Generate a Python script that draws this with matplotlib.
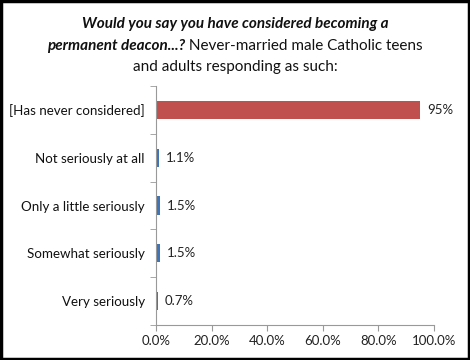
import matplotlib
matplotlib.use("Agg")
import matplotlib.pyplot as plt
from matplotlib.patches import Rectangle
import numpy as np

categories = ["[Has never considered]", "Not seriously at all", "Only a little seriously",
              "Somewhat seriously", "Very seriously"]
values = [95.0, 1.1, 1.5, 1.5, 0.7]
value_labels = ["95%", "1.1%", "1.5%", "1.5%", "0.7%"]
colors = ["#C0504D", "#3F74B8", "#3F74B8", "#3F74B8", "#3F74B8"]
xticks = [0, 20, 40, 60, 80, 100]
xtick_labels = ["0.0%", "20.0%", "40.0%", "60.0%", "80.0%", "100.0%"]

FONT = ["Lato", "DejaVu Sans"]
plt.rcParams['font.family'] = FONT

fig = plt.figure(figsize=(4.7, 3.6), dpi=100)
ax = fig.add_axes([0.332, 0.097, 0.591, 0.664])

y = np.arange(len(categories))
ax.barh(y, values, height=0.38, color=colors, edgecolor="none")
ax.set_ylim(len(categories) - 0.5, -0.5)
ax.set_xlim(0, 100)
ax.set_xticks(xticks)
ax.set_xticklabels(xtick_labels, fontsize=9.5, color="#222222")
ax.set_yticks(y)
ax.set_yticklabels(categories, fontsize=9.6, color="#111111")
ax.tick_params(axis="y", length=0, pad=8)
ax.set_yticks(np.arange(-0.5, len(categories) + 0.5, 1), minor=True)
ax.tick_params(axis="y", which="minor", length=4, color="#999999", direction="out")
ax.tick_params(axis="x", length=4, color="#999999", direction="out", pad=3)
for s in ["top", "right"]:
    ax.spines[s].set_visible(False)
for s in ["left", "bottom"]:
    ax.spines[s].set_color("#999999")
    ax.spines[s].set_linewidth(0.8)

for yi, v, lab in zip(y, values, value_labels):
    ax.annotate(lab, (v, yi), xytext=(5, 0), textcoords="offset points",
                va="center", ha="left", fontsize=9.5, color="#222222")

# Title with mixed styles
fs = 11
fig.text(0.5, 1 - 24/360, "Would you say you have considered becoming a", ha="center", va="center",
         fontsize=fs, fontweight="bold", fontstyle="italic", color="#111111")
fig.canvas.draw()
r = fig.canvas.get_renderer()
t1 = fig.text(0, 1 - 46/360, "permanent deacon...?", ha="left", va="center",
              fontsize=fs, fontweight="bold", fontstyle="italic", color="#111111")
t2 = fig.text(0, 1 - 46/360, " Never-married male Catholic teens", ha="left", va="center",
              fontsize=fs, color="#111111")
w1 = t1.get_window_extent(r).width
w2 = t2.get_window_extent(r).width
W = fig.bbox.width
x0 = (W - (w1 + w2)) / 2
t1.set_x(x0 / W)
t2.set_x((x0 + w1) / W)
fig.text(0.5, 1 - 67/360, "and adults responding as such:", ha="center", va="center",
         fontsize=fs, color="#111111")

fig.patches.append(Rectangle((0.003, 0.004), 0.994, 0.992, transform=fig.transFigure,
                             fill=False, edgecolor="black", linewidth=2.5))

fig.savefig("out.png", dpi=100)
